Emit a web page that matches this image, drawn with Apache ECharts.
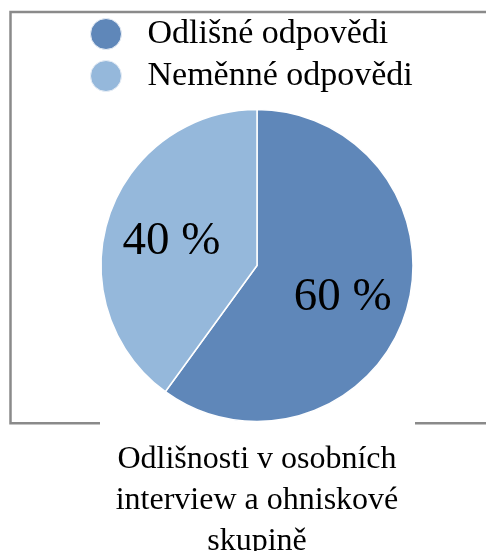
<!DOCTYPE html>
<html>
<head>
<meta charset="utf-8">
<script src="https://cdn.jsdelivr.net/npm/echarts@6/dist/echarts.min.js"></script>
<style>
html,body{margin:0;padding:0;background:#fff;}
#chart{width:486px;height:551px;}
</style>
</head>
<body>
<div id="chart"></div>
<script>
const categories = ['Odlišné odpovědi', 'Neměnné odpovědi'];
const values = [60, 40];
const colors = ['#5f87b9', '#95b8db'];
const titleText = 'Odlišnosti v osobních\ninterview a ohniskové\nskupině';

const FONT = '"Liberation Serif", "Times New Roman", serif';
const chart = echarts.init(document.getElementById('chart'), null, {renderer: 'canvas'});

const pieData = categories.map((c, i) => ({name: c, value: values[i], itemStyle: {color: colors[i]}}));
const labelData = categories.map((c, i) => ({name: c, value: values[i]}));

const frameColor = '#8a8a8a';
chart.setOption({
  animation: false,
  backgroundColor: '#fff',
  title: {
    text: titleText,
    left: 252, top: 434,
    textAlign: 'center',
    textStyle: {fontFamily: FONT, fontSize: 32, fontWeight: 'normal', color: '#000', lineHeight: 41}
  },
  legend: {
    orient: 'vertical',
    left: 85, top: 12,
    itemWidth: 31, itemHeight: 31, itemGap: 8,
    icon: 'circle',
    data: categories.map((c, i) => ({name: c, itemStyle: {color: colors[i], borderColor: '#e8eef6', borderWidth: 1}})),
    textStyle: {fontFamily: FONT, fontSize: 34, color: '#000', padding: [0, 0, 0, 21], lineHeight: 30},
    selectedMode: false
  },
  graphic: [
    {type: 'polyline', shape: {points: [[486, 12], [10.5, 12], [10.5, 423.3], [100, 423.3]]}, style: {stroke: frameColor, lineWidth: 2.5, fill: null}, z: -1},
    {type: 'line', shape: {x1: 415, y1: 423.3, x2: 486, y2: 423.3}, style: {stroke: frameColor, lineWidth: 2.5}, z: -1}
  ],
  series: [
    {
      type: 'pie',
      center: [257, 265.5],
      radius: [0, 156],
      startAngle: 90,
      clockwise: true,
      data: pieData,
      itemStyle: {borderColor: '#fff', borderWidth: 1.5},
      label: {show: false},
      labelLine: {show: false},
      silent: true
    },
    {
      type: 'pie',
      center: [257, 265.5],
      radius: [18, 156],
      startAngle: 90,
      clockwise: true,
      data: labelData,
      itemStyle: {color: 'rgba(0,0,0,0)'},
      label: {
        show: true, position: 'inside',
        formatter: p => p.value + ' %',
        offset: [0, 4],
        fontFamily: FONT, fontSize: 47, color: '#000'
      },
      labelLine: {show: false},
      silent: true,
      z: 3
    }
  ]
});
</script>
</body>
</html>
